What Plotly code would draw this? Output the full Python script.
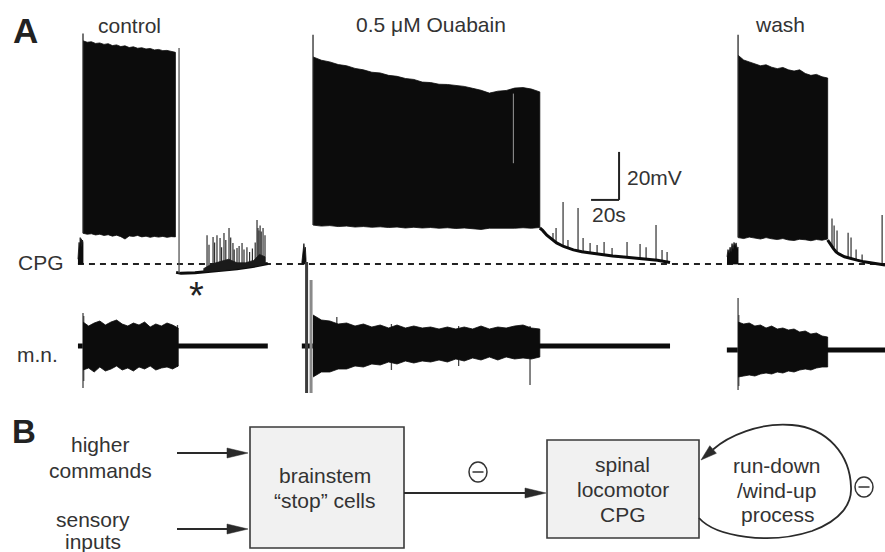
import plotly.graph_objects as go

# ===================== DATA =====================
condition_labels = ["control", "0.5 μM Ouabain", "wash"]
row_labels = ["CPG", "m.n."]

# ---- CPG membrane potential, mV above resting level; time in s from burst onset ----
# control
ctrl_pre_t = [-3.6, -3.2, -2.8, -2.4, -2.0, -1.6, -1.2, -0.8, -0.4, 0.0]
ctrl_pre_v = [2.0, 5.0, 9.0, 6.0, 11.0, 8.0, 10.5, 7.0, 10.0, 9.0]
ctrl_burst_t = [0, 3, 6, 9, 12, 15, 18, 21, 24, 27, 30, 33, 36, 39, 42, 45, 48, 51, 54, 57, 60, 63, 66]
ctrl_burst_top = [93.0, 92.4, 92.6, 91.9, 92.1, 91.5, 91.8, 91.0, 91.3, 90.6, 90.9, 90.2, 90.5, 89.9,
                  90.1, 89.6, 89.8, 89.2, 89.4, 88.9, 89.0, 88.5, 88.2]
ctrl_burst_bot = [12.8, 12.4, 12.6, 12.1, 12.4, 11.9, 12.2, 11.6, 12.0, 11.4, 10.4, 11.7, 11.5, 11.9,
                  11.3, 11.6, 11.1, 11.5, 11.2, 11.5, 11.1, 11.4, 11.3]
ctrl_post_t = [66.5, 68.6, 70, 80, 90, 100, 110, 120, 128, 132]
ctrl_post_v = [-3.5, -3.9, -3.9, -3.6, -3.1, -2.6, -2.0, -1.2, -0.3, 0.2]
ctrl_band_t = [86, 92, 98, 104, 110, 116, 122, 126, 130]
ctrl_band_top = [-2.0, 0.0, 1.0, 2.0, 0.5, 0.5, 1.5, 4.0, 3.0]
ctrl_band_bot = [-3.2, -3.0, -2.7, -2.4, -2.0, -1.6, -1.0, -0.6, 0.0]
ctrl_spk_t = [88.6, 90.0, 92.9, 94.0, 95.7, 97.9, 99.0, 100.7, 102.0, 104.3, 105.5, 107.1, 108.0, 110.0,
              111.5, 113.6, 115.0, 117.1, 119.0, 121.0, 123.0, 124.3, 125.0, 125.7, 126.5, 127.3, 128.6, 130.0]
ctrl_spk_peak = [12.0, 8.0, 11.2, 9.0, 12.0, 10.8, 7.0, 12.9, 10.0, 15.0, 11.0, 8.7, 6.0, 6.7,
                 7.5, 8.7, 6.0, 7.0, 5.0, 6.5, 9.0, 18.3, 15.0, 14.0, 16.0, 13.5, 15.0, 12.0]
ctrl_spk_foot = [-3.2, -3.1, -3.0, -3.0, -2.9, -2.8, -2.7, -2.6, -2.6, -2.4, -2.3, -2.2, -2.1, -2.0,
                 -1.9, -1.8, -1.6, -1.5, -1.3, -1.1, -0.9, -0.8, -0.7, -0.6, -0.5, -0.4, -0.3, 0.0]
ctrl_end_spike = [68.6, -3.9, 90.0]   # time, foot, peak

# 0.5 uM ouabain
oua_pre_t = [-8.0, -7.5, -7.0, -6.5, -6.0, -5.5, -5.0]
oua_pre_v = [0.5, 3.0, 6.0, 8.5, 5.0, 7.0, 2.0]
oua_burst_t = [0, 6, 12, 18, 24, 30, 36, 42, 48, 54, 60, 66, 72, 78, 84, 90, 96, 102, 108, 114,
               120, 126, 132, 138, 144, 150, 156, 162]
oua_burst_top = [86.3, 84.9, 84.2, 83.1, 82.6, 81.5, 80.9, 79.9, 79.6, 78.6, 78.2, 77.3, 76.9, 75.8,
                 75.6, 74.9, 74.8, 74.4, 74.0, 73.2, 72.4, 71.2, 72.0, 72.3, 73.3, 73.5, 72.9, 71.7]
oua_burst_bot = [16.2, 15.8, 16.0, 15.6, 15.8, 15.4, 15.6, 15.3, 15.5, 15.2, 15.4, 15.0, 15.3, 15.0,
                 15.2, 14.9, 15.1, 14.8, 15.0, 14.7, 14.4, 14.9, 14.8, 15.0, 14.9, 15.1, 14.9, 15.2]
oua_dropout = [143.1, 42.0, 71.0]       # time, low, high (light gap in burst)
oua_post_t = [162, 164, 167, 170, 174, 179, 186, 192, 198, 206, 214, 222, 230, 238, 246, 255]
oua_post_v = [15.0, 14.0, 12.0, 10.5, 8.8, 7.3, 5.9, 5.1, 4.6, 3.8, 3.3, 2.9, 2.4, 2.0, 1.6, 0.6]
oua_spk_t = [171.4, 173.6, 178.6, 182.1, 189.3, 192.9, 197.9, 202.9, 207.9, 213.6, 224.3, 233.6,
             237.9, 245.0, 249.3, 252.9]
oua_spk_peak = [12.9, 15.0, 25.8, 10.0, 23.3, 10.8, 8.8, 7.9, 9.2, 6.7, 9.2, 8.3, 7.0, 16.3, 5.8, 5.0]
oua_spk_foot = [10.0, 9.0, 7.5, 6.8, 5.5, 5.1, 4.6, 4.3, 3.9, 3.4, 2.8, 2.2, 2.0, 1.7, 1.3, 0.9]

# wash
wash_pre_t = [-7.9, -7.2, -6.4, -5.7, -5.0, -4.3, -3.6, -2.9, -2.1, -1.4, -0.7, 0.0]
wash_pre_v = [3.0, 6.0, 4.5, 7.0, 5.0, 8.5, 6.0, 9.0, 7.5, 8.8, 6.5, 7.0]
wash_burst_t = [0, 4, 8, 12, 16, 20, 24, 28, 32, 36, 40, 44, 48, 52, 56, 60, 64]
wash_burst_top = [87.0, 85.0, 84.2, 83.4, 82.6, 83.0, 82.0, 81.4, 81.9, 80.9, 80.4, 80.9, 79.4, 78.6,
                  79.0, 78.0, 77.5]
wash_burst_bot = [11.0, 10.6, 11.2, 10.8, 10.4, 11.0, 10.5, 10.2, 10.6, 10.0, 9.8, 10.3, 10.1, 9.7,
                  10.2, 9.9, 10.4]
wash_post_t = [64, 66, 68, 70, 72, 76, 80, 85, 90, 95, 100, 105]
wash_post_v = [10.0, 8.0, 6.5, 5.0, 4.2, 3.0, 2.3, 1.6, 0.9, 0.4, 0.0, -0.4]
wash_spk_t = [67.1, 68.6, 70.7, 78.6, 80.7, 84.3, 88.6, 102.9]
wash_spk_peak = [19.0, 16.0, 14.0, 13.0, 11.0, 6.0, 4.0, 20.4]
wash_spk_foot = [7.5, 6.8, 5.0, 2.5, 2.2, 1.7, 1.1, 0.2]

onset_spike_peak = [96.0, 95.5, 95.5]   # first spike of each burst (mV)

# ---- motoneuron (m.n.) extracellular recording, arbitrary units ----
mn_span = [[-3.6, 132.0], [-8.0, 255.0], [-8.0, 105.0]]   # recording extent (s)
mn_base = [0, 0, -4]
mn_ctrl_t = [0, 4, 8, 12, 16, 20, 24, 28, 32, 36, 40, 44, 48, 52, 56, 60, 64, 68]
mn_ctrl_top = [24, 20, 23, 25, 21, 24, 26, 22, 20, 23, 21, 24, 19, 22, 20, 23, 21, 18]
mn_ctrl_bot = [-24, -22, -26, -21, -25, -23, -20, -24, -22, -25, -21, -23, -20, -24, -22, -21, -23, -20]
mn_ctrl_spk_t = [0.0, 0.5, 67.5]
mn_ctrl_spk_lo = [-42, -35, -21]
mn_ctrl_spk_hi = [33, 30, 21]

mn_oua_t = [0, 6, 12, 18, 24, 30, 36, 42, 48, 54, 60, 66, 72, 78, 84, 90, 96, 102, 108, 114,
            120, 126, 132, 138, 144, 150, 156, 162]
mn_oua_top = [31, 26, 25, 22, 23, 20, 22, 19, 21, 18, 21, 18, 20, 18, 19, 17, 19, 17, 19, 17,
              20, 17, 19, 18, 20, 21, 18, 17]
mn_oua_bot = [-31, -26, -26, -23, -23, -20, -21, -18, -19, -16, -18, -15, -17, -15, -16, -14, -16, -13,
              -15, -12, -14, -11, -14, -11, -13, -12, -13, -11]
mn_oua_spk_t = [17.0, 56.0, 104.0, 155.0]
mn_oua_spk_lo = [-22, -24, -20, -39]
mn_oua_spk_hi = [29, 22, 20, 20]
mn_oua_artifact_t = [-4.6, -1.4]
mn_oua_artifact_lo = [-47, -47]
mn_oua_artifact_hi = [84, 66]

mn_wash_t = [0, 4, 8, 12, 16, 20, 24, 28, 32, 36, 40, 44, 48, 52, 56, 60, 64]
mn_wash_top = [28, 26, 27, 24, 25, 22, 24, 21, 22, 20, 21, 18, 19, 16, 17, 14, 13]
mn_wash_bot = [-27, -26, -25, -26, -24, -23, -24, -22, -23, -21, -22, -20, -19, -20, -18, -17, -17]
mn_wash_spk_t = [0.0, 0.5]
mn_wash_spk_lo = [-40, -36]
mn_wash_spk_hi = [52, 35]

scale_mV = 20
scale_s = 20

# ===================== LAYOUT CONSTANTS =====================
W, H = 885, 552
FONT = "Liberation Sans, Arial, Helvetica, sans-serif"
TXT = "#333333"
INK = "#0c0c0c"
PX_PER_S = 1.4
PX_PER_MV = 2.4
ONSET_PX = 83          # control burst onset on the page
CPG_BASE_PX = 264      # resting level line
MN_BASE_PX = 346
seg_offset = [0.0, 164.3, 467.9]   # where each recording is placed on the shared time axis (s)
scale_pos = [382.9, 26.7]           # corner of scale bar (s, mV)

fig = go.Figure()


def xs(t, off):
    return [v + off for v in t]


def envelope(t, top, bot, off, yaxis, color=INK, base=0.0):
    x = xs(t, off) + xs(t, off)[::-1]
    y = [v + base for v in top] + [v + base for v in bot][::-1]
    fig.add_trace(go.Scatter(x=x, y=y, xaxis="x2", yaxis=yaxis, mode="lines", fill="toself",
                             fillcolor=color, line=dict(color=color, width=0.8),
                             hoverinfo="skip", showlegend=False))


def verticals(t, lo, hi, off, yaxis, color, width, base=0.0):
    x, y = [], []
    for a, b, c in zip(t, lo, hi):
        x += [a + off, a + off, None]
        y += [b + base, c + base, None]
    fig.add_trace(go.Scatter(x=x, y=y, xaxis="x2", yaxis=yaxis, mode="lines",
                             line=dict(color=color, width=width),
                             hoverinfo="skip", showlegend=False))


def polyline(t, v, off, yaxis, color, width, base=0.0):
    fig.add_trace(go.Scatter(x=xs(t, off), y=[q + base for q in v], xaxis="x2", yaxis=yaxis,
                             mode="lines", line=dict(color=color, width=width),
                             hoverinfo="skip", showlegend=False))


# anchor trace for the page frame axes
fig.add_trace(go.Scatter(x=[0], y=[0], mode="markers", marker=dict(opacity=0),
                         hoverinfo="skip", showlegend=False))

# ---------- CPG traces ----------
pre = [(ctrl_pre_t, ctrl_pre_v), (oua_pre_t, oua_pre_v), (wash_pre_t, wash_pre_v)]
bursts = [(ctrl_burst_t, ctrl_burst_top, ctrl_burst_bot),
          (oua_burst_t, oua_burst_top, oua_burst_bot),
          (wash_burst_t, wash_burst_top, wash_burst_bot)]
posts = [(ctrl_post_t, ctrl_post_v), (oua_post_t, oua_post_v), (wash_post_t, wash_post_v)]
spks = [(ctrl_spk_t, ctrl_spk_foot, ctrl_spk_peak), (oua_spk_t, oua_spk_foot, oua_spk_peak),
        (wash_spk_t, wash_spk_foot, wash_spk_peak)]

for i in range(3):
    off = seg_offset[i]
    pt, pv = pre[i]
    envelope(pt, pv, [0.0] * len(pv), off, "y2")
    verticals(spks[i][0], spks[i][1], spks[i][2], off, "y2", "#2e2e2e", 1.2)
    bt, btop, bbot = bursts[i]
    envelope(bt, btop, bbot, off, "y2")
    verticals([0.0], [bbot[0]], [onset_spike_peak[i]], off, "y2", "#2a2a2a", 1.3)
    polyline(posts[i][0], posts[i][1], off, "y2", INK, 3)

envelope(ctrl_band_t, ctrl_band_top, ctrl_band_bot, seg_offset[0], "y2", color="#1a1a1a")
verticals([ctrl_end_spike[0]], [ctrl_end_spike[1]], [ctrl_end_spike[2]], seg_offset[0], "y2", "#555555", 1.3)
verticals([oua_dropout[0]], [oua_dropout[1]], [oua_dropout[2]], seg_offset[1], "y2", "#9a9a9a", 1.0)

# ---------- m.n. traces ----------
mn_env = [(mn_ctrl_t, mn_ctrl_top, mn_ctrl_bot), (mn_oua_t, mn_oua_top, mn_oua_bot),
          (mn_wash_t, mn_wash_top, mn_wash_bot)]
mn_spk = [(mn_ctrl_spk_t, mn_ctrl_spk_lo, mn_ctrl_spk_hi), (mn_oua_spk_t, mn_oua_spk_lo, mn_oua_spk_hi),
          (mn_wash_spk_t, mn_wash_spk_lo, mn_wash_spk_hi)]
for i in range(3):
    off = seg_offset[i]
    b = mn_base[i]
    polyline(mn_span[i], [0, 0], off, "y3", INK, 5, base=b)
    verticals(mn_spk[i][0], mn_spk[i][1], mn_spk[i][2], off, "y3", "#444444", 1.3, base=b)
    envelope(mn_env[i][0], mn_env[i][1], mn_env[i][2], off, "y3", base=b)

verticals(mn_oua_artifact_t[:1], mn_oua_artifact_lo[:1], mn_oua_artifact_hi[:1], seg_offset[1], "y3", "#3c3c3c", 3)
verticals(mn_oua_artifact_t[1:], mn_oua_artifact_lo[1:], mn_oua_artifact_hi[1:], seg_offset[1], "y3", "#8a8a8a", 3)

# ---------- shapes ----------
shapes = []
# resting-level dashed line
shapes.append(dict(type="line", xref="x2", yref="y2", x0=-3.6, x1=(W - ONSET_PX) / PX_PER_S, y0=0, y1=0,
                   line=dict(color="#222222", width=2, dash="6px,5px"), layer="below"))
# scale bar
sx, sy = scale_pos
shapes.append(dict(type="line", xref="x2", yref="y2", x0=sx, x1=sx, y0=sy, y1=sy + scale_mV,
                   line=dict(color="#222222", width=2)))
shapes.append(dict(type="line", xref="x2", yref="y2", x0=sx - scale_s, x1=sx, y0=sy, y1=sy,
                   line=dict(color="#222222", width=2)))

BOX_LINE = dict(color="#3a3a3a", width=1.6)
BOX_FILL = "#f1f1f1"
shapes.append(dict(type="rect", xref="x", yref="y", x0=250, x1=404, y0=427, y1=548,
                   fillcolor=BOX_FILL, line=BOX_LINE))
shapes.append(dict(type="rect", xref="x", yref="y", x0=547, x1=699, y0=440, y1=538,
                   fillcolor=BOX_FILL, line=BOX_LINE))
ARROW = dict(color="#2a2a2a", width=1.8)
for (x0, x1, y) in [(177, 232, 453), (177, 232, 529), (404, 528, 493)]:
    shapes.append(dict(type="line", xref="x", yref="y", x0=x0, x1=x1, y0=y, y1=y, line=ARROW))
for (tip, y) in [(248, 453), (248, 529), (546, 493)]:
    shapes.append(dict(type="path", xref="x", yref="y",
                       path=f"M {tip},{y} L {tip-21},{y-5} L {tip-21},{y+5} Z",
                       fillcolor="#2a2a2a", line=dict(color="#2a2a2a", width=0.5)))
# feedback loop
shapes.append(dict(type="path", xref="x", yref="y",
                   path="M 699,518 C 716,537 770,545 812,531 C 842,520 852,503 851,487 "
                        "C 850,455 828,428 792,425 C 760,422 728,436 713,449.5",
                   line=ARROW))
shapes.append(dict(type="path", xref="x", yref="y",
                   path="M 701,460 L 716.4,453.3 L 709.8,445.7 Z",
                   fillcolor="#2a2a2a", line=dict(color="#2a2a2a", width=0.5)))
# circled minus signs
for (cx, cy) in [(478, 472), (864, 487)]:
    shapes.append(dict(type="circle", xref="x", yref="y", x0=cx - 9, x1=cx + 9, y0=cy - 10, y1=cy + 10,
                       line=dict(color="#333333", width=1.5)))
    shapes.append(dict(type="line", xref="x", yref="y", x0=cx - 5.5, x1=cx + 5.5, y0=cy, y1=cy,
                       line=dict(color="#333333", width=1.5)))

# ---------- text ----------
ann = []


def text(s, x, y, size=21, anchor="center", bold=False, color=TXT):
    ann.append(dict(text=f"<b>{s}</b>" if bold else s, x=x, y=y, xref="x", yref="y",
                    xanchor=anchor, yanchor="middle", showarrow=False, borderpad=0,
                    font=dict(family=FONT, size=size, color=color)))


text("A", 25, 30, size=35, bold=True, color="#222222")
text("B", 24, 431, size=33, bold=True, color="#222222")
text(condition_labels[0], 129.5, 25.7)
text(condition_labels[1], 430.5, 24.7)
text(condition_labels[2], 780, 24.7)
text(row_labels[0], 17, 262.7, anchor="left")
text(row_labels[1], 16, 354.7, anchor="left")
text(f"{scale_mV}mV", 626, 177.7, anchor="left")
text(f"{scale_s}s", 591, 214.7, anchor="left")
text("*", 196, 295.5, size=38, color="#222222")

text("higher", 100, 444.7)
text("commands", 100, 470.7)
text("sensory", 93, 519.5)
text("inputs", 93, 541.5)
text("brainstem", 324.5, 475.7)
text("“stop” cells", 325, 500.5)
text("spinal", 622.5, 464.7)
text("locomotor", 622.5, 489.7)
text("CPG", 622.5, 514.7)
text("run-down", 776.7, 465.7)
text("/wind-up", 776.7, 490.7)
text("process", 777.5, 514.7)

fig.update_layout(
    width=W, height=H, autosize=False,
    margin=dict(l=0, r=0, t=0, b=0, pad=0),
    paper_bgcolor="white", plot_bgcolor="white",
    showlegend=False, hovermode=False,
    xaxis=dict(range=[0, W], visible=False, domain=[0, 1], fixedrange=True),
    yaxis=dict(range=[H, 0], visible=False, domain=[0, 1], fixedrange=True),
    xaxis2=dict(range=[-ONSET_PX / PX_PER_S, (W - ONSET_PX) / PX_PER_S], visible=False,
                overlaying="x", fixedrange=True),
    yaxis2=dict(range=[(CPG_BASE_PX - H) / PX_PER_MV, CPG_BASE_PX / PX_PER_MV], visible=False,
                overlaying="y", anchor="x2", fixedrange=True),
    yaxis3=dict(range=[MN_BASE_PX - H, MN_BASE_PX], visible=False,
                overlaying="y", anchor="x2", fixedrange=True),
    shapes=shapes,
    annotations=ann,
)

fig.write_html("out.html", config={"displayModeBar": False},
               post_script="document.body.style.margin='0';document.body.style.overflow='hidden';")
